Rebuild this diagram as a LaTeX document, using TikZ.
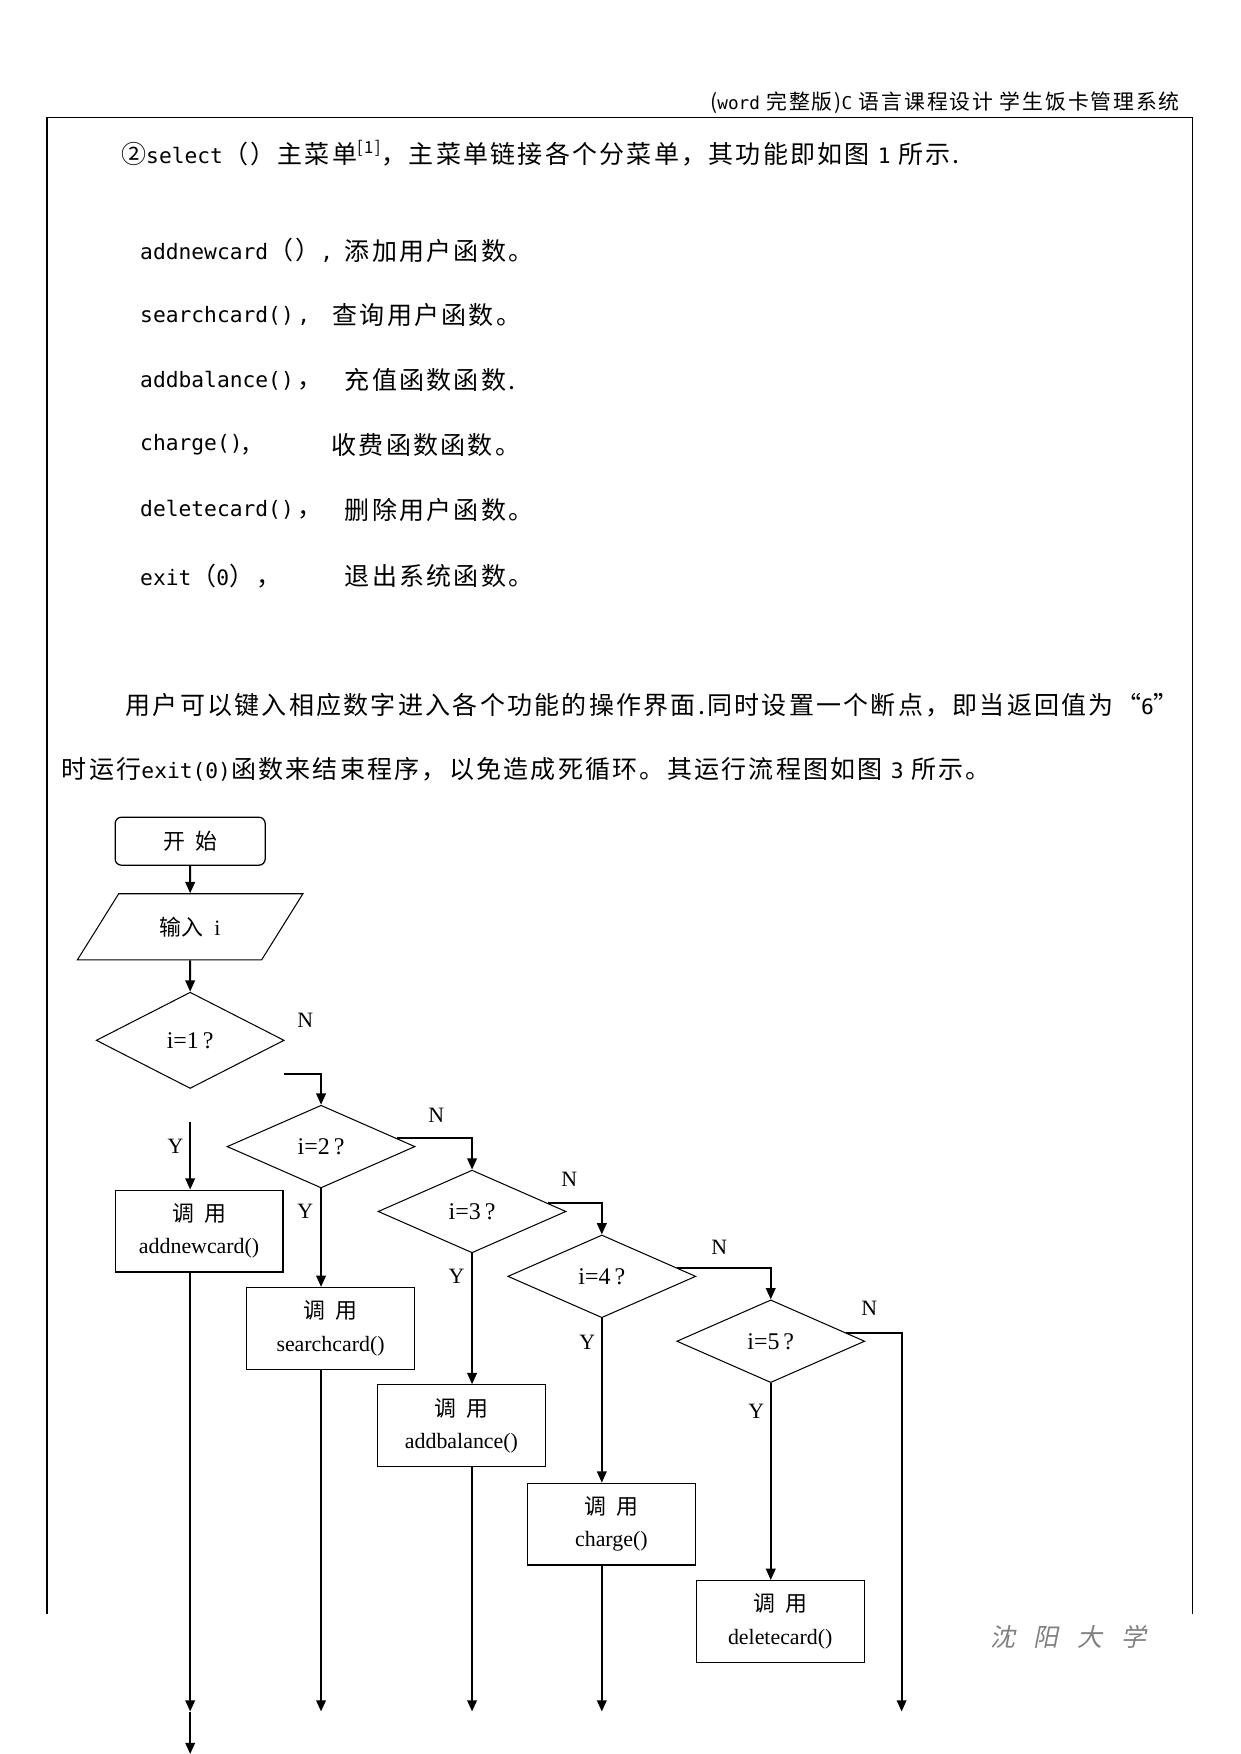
\documentclass[tikz,border=0pt]{standalone}
\usepackage{fontspec}
\setmainfont{Liberation Serif}
\newfontfamily\cjk{Noto Sans CJK SC}
\newfontfamily\cjkbody[LetterSpace=9]{Noto Sans CJK SC}
\newfontfamily\cjkslant[FakeSlant=0.2]{Noto Sans CJK SC}
\newfontfamily\code[Scale=0.85]{DejaVu Sans Mono}
\usetikzlibrary{shapes.geometric,arrows.meta,calc}

\begin{document}
\begin{tikzpicture}[x=0.5368pt,y=-0.5368pt,
    every node/.style={font=\fontsize{10.5}{15.5}\selectfont, inner sep=0pt},
    body/.style={font=\fontsize{12}{14}\selectfont\cjkbody, anchor=west},
    startbox/.style={draw, line width=0.6pt, rounded corners=3pt, minimum width=72pt, minimum height=23pt, font=\fontsize{10.5}{15.5}\selectfont\cjk},
    inbox/.style={draw, line width=0.5pt, trapezium, trapezium left angle=49, trapezium right angle=131, trapezium stretches=true, minimum width=108.4pt, minimum height=31.7pt},
    test/.style={draw, line width=0.5pt, diamond, minimum width=90.2pt, minimum height=39.7pt, font=\fontsize{11.5}{14}\selectfont},
    call/.style={draw, line width=0.6pt, align=center, minimum width=80.5pt, minimum height=39.2pt},
    arr/.style={-{Triangle[length=5.4pt,width=4.6pt]}, line width=0.9pt},
    yn/.style={font=\fontsize{10.5}{12}\selectfont},
]
\useasboundingbox (0,0) rectangle (1109,1568);
% === page head and frame ===
\node[anchor=east, font=\fontsize{10}{12}\selectfont\cjkbody] (head) at (1055,92) {({\code word} 完整版){\code C} 语言课程设计\ 学生饭卡管理系统};
\draw[line width=0.6pt] (42,1443) -- (42,105) -- (1066,105) -- (1066,1443);
% === text ===
\node[body] (intro) at (108,137) {②{\code select}（）主菜单\textsuperscript{[1]}，主菜单链接各个分菜单，其功能即如图 {\code 1} 所示.};
\node[body] (fn1) at (125,224) {{\code addnewcard}（）{\code ,}};
\node[body] (ds1) at (308,224) {添加用户函数。};
\node[body] (fn2) at (125,282) {{\code searchcard()\,,}};
\node[body] (ds2) at (297,282) {查询用户函数。};
\node[body] (fn3) at (125,340) {{\code addbalance()}\,，};
\node[body] (ds3) at (308,340) {充值函数函数.};
\node[body] (fn4) at (125,398) {{\code charge()},};
\node[body] (ds4) at (296,398) {收费函数函数。};
\node[body] (fn5) at (125,456) {{\code deletecard()}\,，};
\node[body] (ds5) at (308,456) {删除用户函数。};
\node[body] (fn6) at (125,515) {{\code exit}（{\code 0}），};
\node[body] (ds6) at (308,515) {退出系统函数。};
\node[body] (para1) at (112,630) {用户可以键入相应数字进入各个功能的操作界面.同时设置一个断点，即当返回值为“{\code 6}”};
\node[body] (para2) at (55,688) {时运行{\code exit(0)}函数来结束程序，以免造成死循环。其运行流程图如图 {\code 3} 所示。};
% === flow chart ===
\node[startbox] (start) at (170,752) {开\ \ 始};
\node[inbox] (input) at (170,828.5) {{\cjk 输入}\ \ i};
\node[test, minimum height=46.2pt] (d1) at (170,930) {i=1\,?};
\node[test] (d2) at (287,1025) {i=2\,?};
\node[test] (d3) at (422,1083) {i=3\,?};
\node[test] (d4) at (538,1141) {i=4\,?};
\node[test] (d5) at (689,1199) {i=5\,?};
% call boxes
\node[call] (b1) at (178,1100.5) {{\cjk 调\ \ 用}\\addnewcard()};
\node[call] (b2) at (295.5,1187.5) {{\cjk 调\ \ 用}\\searchcard()};
\node[call] (b3) at (412.5,1274.5) {{\cjk 调\ \ 用}\\addbalance()};
\node[call] (b4) at (546.5,1362.5) {{\cjk 调\ \ 用}\\charge()};
\node[call] (b5) at (697.5,1449.5) {{\cjk 调\ \ 用}\\deletecard()};
% loose ends
\coordinate (n1) at (254,960);
\coordinate (y1) at (170,1003);
\coordinate (e1) at (170,1530);
\coordinate (e1b) at (170,1568);
\coordinate (e2) at (287,1530);
\coordinate (e3) at (422,1530);
\coordinate (e4) at (538,1530);
\coordinate (e5) at (806,1530);
% Y / N labels
\node[yn] (ln1) at (273,912) {N};
\node[yn] (ly1) at (157,1025) {Y};
\node[yn] (ln2) at (390,997) {N};
\node[yn] (ly2) at (273,1083) {Y};
\node[yn] (ln3) at (509,1054) {N};
\node[yn] (ly3) at (408,1141) {Y};
\node[yn] (ln4) at (643,1115) {N};
\node[yn] (ly4) at (525,1200) {Y};
\node[yn] (ln5) at (777,1170) {N};
\node[yn] (ly5) at (676,1262) {Y};
% connectors
\draw[arr] (start) -- (input);
\draw[arr] (input) -- (d1);
\draw[arr] (n1) -| (d2.north);
\draw[arr] (y1) -- (y1 |- b1.north);
\draw[arr] ($(d2.east)!0.2!(d2.north)$) -| (d3.north);
\draw[arr] ($(d3.east)!0.2!(d3.north)$) -| (d4.north);
\draw[arr] ($(d4.east)!0.2!(d4.north)$) -| (d5.north);
\draw[arr] ($(d5.east)!0.2!(d5.north)$) -| (e5);
\draw[arr] (d2.south) -- (d2.south |- b2.north);
\draw[arr] (d3.south) -- (d3.south |- b3.north);
\draw[arr] (d4.south) -- (d4.south |- b4.north);
\draw[arr] (d5.south) -- (d5.south |- b5.north);
\draw[arr] (e1 |- b1.south) -- (e1);
\draw[arr] (e1) -- (e1b);
\draw[arr] (e2 |- b2.south) -- (e2);
\draw[arr] (e3 |- b3.south) -- (e3);
\draw[arr] (e4 |- b4.south) -- (e4);
% foot
\node[font=\fontsize{12}{14}\selectfont\cjkslant, text=gray] (foot) at (955,1463) {沈\hspace{9pt}阳\hspace{9pt}大\hspace{9pt}学};
\end{tikzpicture}
\end{document}
